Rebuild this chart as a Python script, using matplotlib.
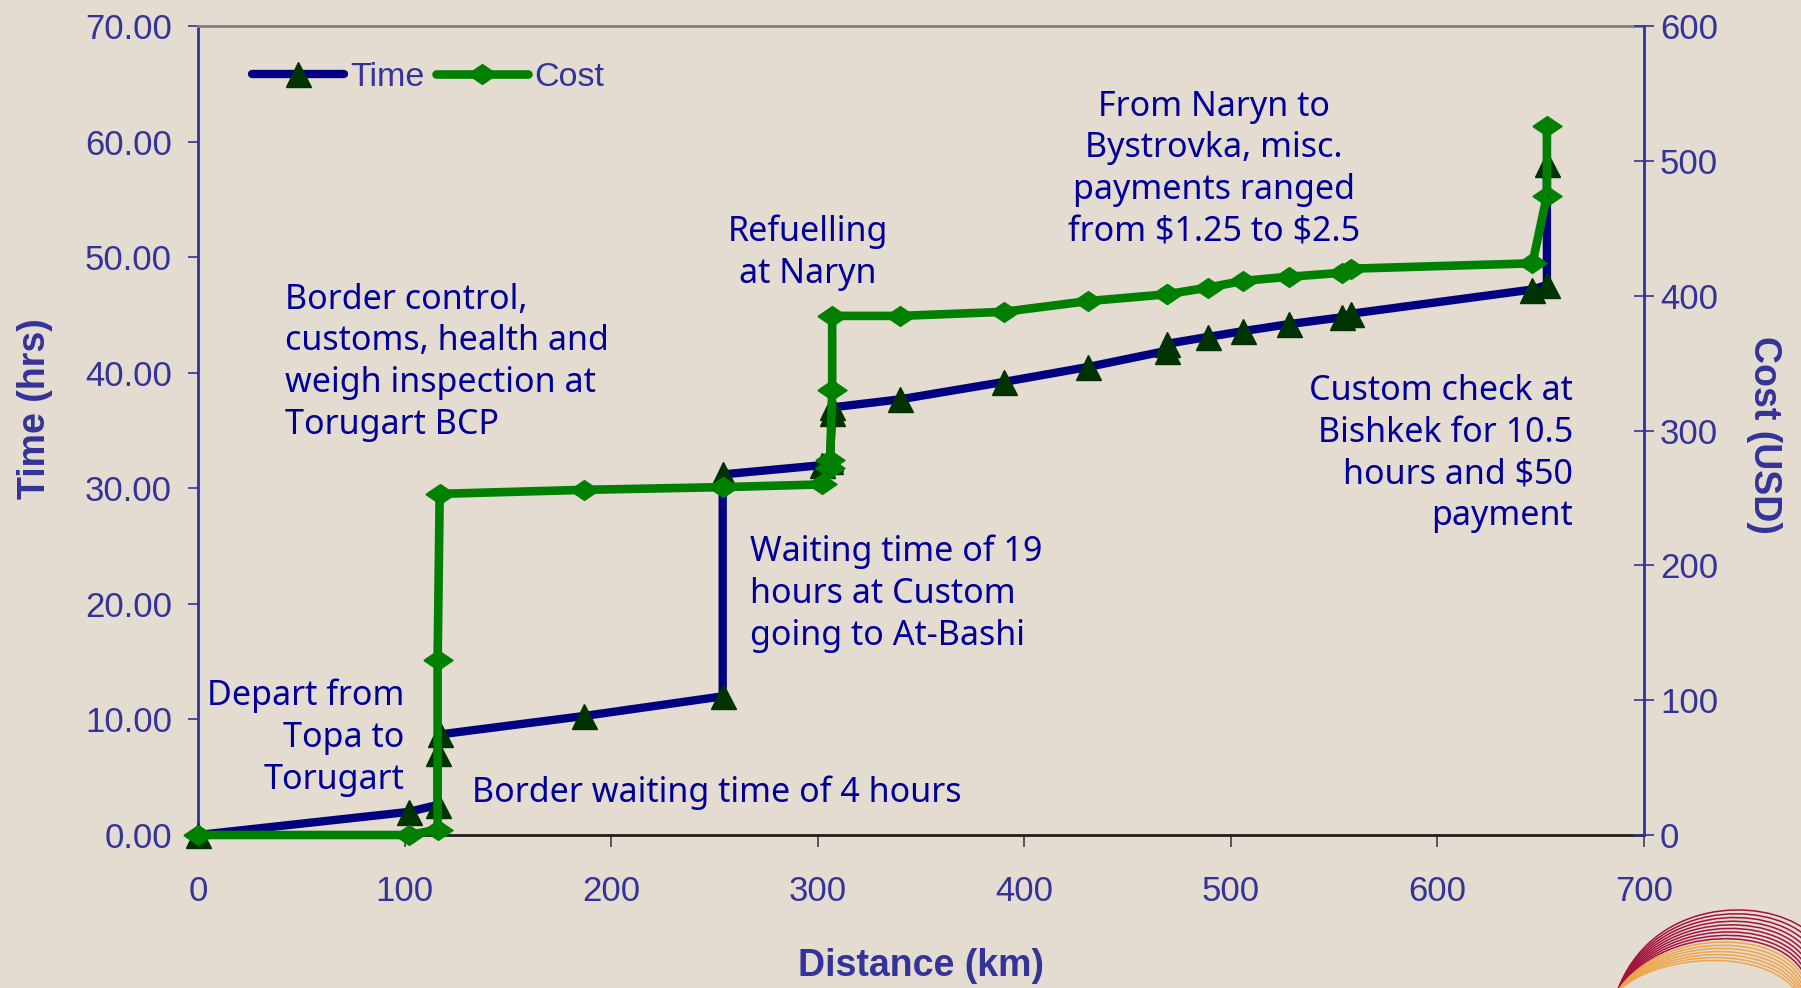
"""
Torugart - Bishkek route: cumulative time and cost against distance
"""

import matplotlib
matplotlib.use('Agg')
import matplotlib.pyplot as plt
from matplotlib import font_manager
from matplotlib.patches import PathPatch
from matplotlib.path import Path
from matplotlib.ticker import FormatStrFormatter


def pick_font(names):
    for name in names:
        try:
            font_manager.findfont(name, fallback_to_default=False)
            return name
        except ValueError:
            pass
    return 'DejaVu Sans'


# データ (距離 km, 累積時間 hrs, 累積費用 USD)
distance_km = [0, 102, 116, 116, 117, 187, 254, 254, 302, 306, 306, 307, 307,
               340, 390, 431, 469, 469, 489, 506, 528, 554, 558, 646, 653, 653]
time_hrs = [0.0, 2.0, 2.6, 7.1, 8.7, 10.3, 12.0, 31.2, 32.0, 32.4, 32.6, 36.5, 37.0,
            37.7, 39.2, 40.5, 41.9, 42.5, 43.1, 43.6, 44.2, 44.8, 45.1, 47.2, 47.6, 58.1]
cost_usd = [0, 0, 4, 130, 253, 256, 258, 258, 260, 272, 278, 330, 385,
            385, 388, 396, 401, 401, 406, 411, 414, 417, 420, 424, 474, 526]

x_ticks = [0, 100, 200, 300, 400, 500, 600, 700]
time_ticks = [0, 10, 20, 30, 40, 50, 60, 70]
cost_ticks = [0, 100, 200, 300, 400, 500, 600]

# 注釈 (text, x, hrs, 揃え)
notes = [
    ('Depart from\nTopa to\nTorugart', 100, 8.4, 'right'),
    ('Border waiting time of 4 hours', 132.5, 3.7, 'left'),
    ('Border control,\ncustoms, health and\nweigh inspection at\nTorugart BCP', 42, 40.9, 'left'),
    ('Refuelling\nat Naryn', 295.3, 50.4, 'center'),
    ('Waiting time of 19\nhours at Custom\ngoing to At-Bashi', 267, 20.9, 'left'),
    ('From Naryn to\nBystrovka, misc.\npayments ranged\nfrom $1.25 to $2.5', 491.8, 57.6, 'center'),
    ('Custom check at\nBishkek for 10.5\nhours and $50\npayment', 665.6, 33.0, 'right'),
]

BG = '#e4dcd0'
AXIS_BLUE = '#333399'
NOTE_BLUE = '#000099'
TIME_COLOR = '#000080'
TIME_MARKER = '#003300'
COST_COLOR = '#008000'

tick_font = pick_font(['Liberation Sans', 'Arial'])
note_font = pick_font(['Noto Sans', 'DejaVu Sans'])

W, H = 1801, 988
fig = plt.figure(figsize=(W / 100, H / 100), dpi=100, facecolor=BG)

# 右下の飾り (弧)
deco = fig.add_axes([0, 0, 1, 1], zorder=-5)
deco.set_xlim(0, W)
deco.set_ylim(H, 0)
deco.axis('off')
for i in range(16):
    verts = [(1617, 992), (1650 + i, 900 + 3 * i), (1760 + 3 * i, 895 + 3.5 * i), (1806, 930 + 6 * i)]
    codes = [Path.MOVETO, Path.CURVE4, Path.CURVE4, Path.CURVE4]
    col = '#a3123f' if i < 9 else '#eea54a'
    deco.add_patch(PathPatch(Path(verts, codes), fill=False, lw=1.1, edgecolor=col))

L, R, T, B = 198, 1644, 26, 835
ax = fig.add_axes([L / W, 1 - B / H, (R - L) / W, (B - T) / H])
ax.patch.set_visible(False)
ax2 = ax.twinx()

# Time
ax.plot(distance_km, time_hrs, color=TIME_COLOR, lw=6, marker='^', ms=18,
        mfc=TIME_MARKER, mec=TIME_MARKER, clip_on=False, label='Time',
        solid_capstyle='round', zorder=3)

# Cost (菱形は横長)
diamond = [(-1, 0), (0, 0.68), (1, 0), (0, -0.68), (-1, 0)]
ax2.plot(distance_km, cost_usd, color=COST_COLOR, lw=6.2, marker=diamond, ms=21,
         mfc=COST_COLOR, mec=COST_COLOR, clip_on=False, label='Cost',
         solid_capstyle='round', zorder=3)

ax.set_xlim(0, 700)
ax.set_ylim(0, 70)
ax2.set_ylim(0, 600)
ax.set_xticks(x_ticks)
ax.set_yticks(time_ticks)
ax2.set_yticks(cost_ticks)
ax.yaxis.set_major_formatter(FormatStrFormatter('%.2f'))

ax.tick_params(axis='x', direction='out', length=8.6, width=1.2, color='#404040',
               pad=20, labelsize=25, labelcolor=AXIS_BLUE)
ax.tick_params(axis='y', direction='out', length=7.2, width=1.2, color=AXIS_BLUE,
               pad=11.5, labelsize=25, labelcolor=AXIS_BLUE)
ax2.tick_params(axis='y', direction='inout', length=14.4, width=1.2, color=AXIS_BLUE,
                pad=4.3, labelsize=25, labelcolor=AXIS_BLUE)
for lab in ax.get_xticklabels() + ax.get_yticklabels() + ax2.get_yticklabels():
    lab.set_fontfamily(tick_font)

for a in (ax, ax2):
    for s in a.spines.values():
        s.set_visible(False)
ax.spines['left'].set_visible(True)
ax.spines['left'].set_color(AXIS_BLUE)
ax.spines['left'].set_linewidth(2)
ax.spines['bottom'].set_visible(True)
ax.spines['bottom'].set_color('#202020')
ax.spines['bottom'].set_linewidth(2)
ax.spines['top'].set_visible(True)
ax.spines['top'].set_color('#808080')
ax.spines['top'].set_linewidth(2)
ax2.spines['right'].set_visible(True)
ax2.spines['right'].set_color(AXIS_BLUE)
ax2.spines['right'].set_linewidth(2)

# 軸ラベル
fig.text(921 / W, 1 - 966 / H, 'Distance (km)', ha='center', va='center',
         fontsize=27, fontweight='bold', color=AXIS_BLUE, family=tick_font)
fig.text(35 / W, 1 - 409 / H, 'Time (hrs)', ha='center', va='center', rotation=90,
         fontsize=27, fontweight='bold', color=AXIS_BLUE, family=tick_font)
fig.text(1764 / W, 1 - 435 / H, 'Cost (USD)', ha='center', va='center', rotation=270,
         fontsize=27, fontweight='bold', color=AXIS_BLUE, family=tick_font)

# 注釈
for txt, x, y, align in notes:
    ax.text(x, y, txt, ha=align, va='center', multialignment=align, parse_math=False,
            fontsize=24.5, color=NOTE_BLUE, family=note_font, linespacing=1.3)

# 凡例
h1, l1 = ax.get_legend_handles_labels()
h2, l2 = ax2.get_legend_handles_labels()
leg = ax2.legend(h1 + h2, l1 + l2, loc='center left',
                 bbox_to_anchor=((252 - L) / (R - L), (B - 77) / (B - T)),
                 ncol=2, frameon=False, borderpad=0, borderaxespad=0,
                 handlelength=2.7, handletextpad=0.18, columnspacing=0.35,
                 prop={'family': tick_font, 'size': 24.5})
for t in leg.get_texts():
    t.set_color(AXIS_BLUE)

fig.savefig('out.png', dpi=100, facecolor=fig.get_facecolor())
